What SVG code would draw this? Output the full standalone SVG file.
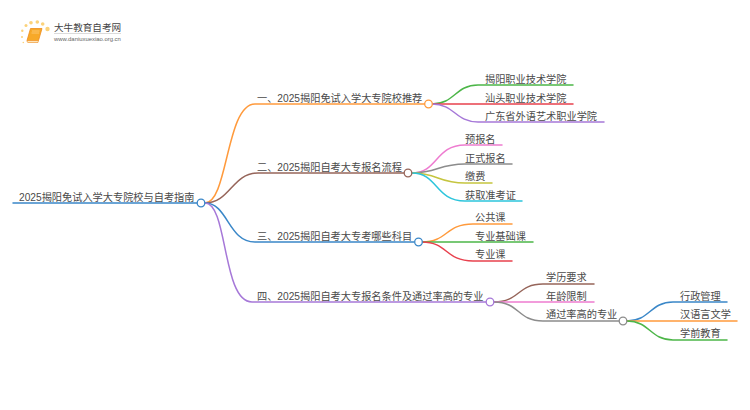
<svg xmlns="http://www.w3.org/2000/svg" width="750" height="410" viewBox="0 0 750 410">
<style>
text{font-family:"Liberation Sans","Noto Sans CJK SC",sans-serif;font-size:10.2px;fill:#4a4a4a}
.c{fill:none;stroke-width:1.5;stroke-linecap:round}
circle.n{fill:#fff;stroke-width:1.3}
.dot{fill:#fbd27a}
</style>
<rect width="750" height="410" fill="#fff"/>
<g id="logo">
<circle class="dot" cx="47.500" cy="29" r="2.200"/><circle class="dot" cx="42.700" cy="24" r="1.800"/><circle class="dot" cx="37.300" cy="22" r="1.800"/><circle class="dot" cx="31" cy="22.700" r="1.800"/><circle class="dot" cx="26" cy="25.500" r="1.500"/><circle class="dot" cx="22.300" cy="30.700" r="1.200"/><circle class="dot" cx="22" cy="37" r="1"/><circle class="dot" cx="23.300" cy="42.500" r="0.800"/>
<path d="M30.500 28.500H42L38.500 40.500H27Z" fill="#f7a928" stroke="#ee8c1a" stroke-width="0.800"/>
<path d="M27 40.500H38.500L38 42.500H28Q26.500 42 27 40.500Z" fill="#fde6bd" stroke="#ee8c1a" stroke-width="0.600"/>
<path d="M32 31H39.500M31.500 33H39" stroke="#fdd28a" stroke-width="0.700" fill="none"/>
<text x="54" y="31" style="font-size:9.600px;fill:#444">大牛教育自考网</text>
<rect x="54" y="33" width="67" height="0.700" fill="#ccc"/>
<text x="54" y="41" style="font-size:5.900px;fill:#666">www.daniuxuexiao.org.cn</text>
</g>
<g id="connectors">
<path class="c" stroke="#3a87c8" d="M13 203H197"/>
<path class="c" stroke="#ff9a3c" d="M205 203C228 203 226 104 255 104H425"/>
<path class="c" stroke="#96655a" d="M205 203C230 203 232 173 258 173H404"/>
<path class="c" stroke="#3a87c8" d="M205 203C228 203 228 242 255 242H414"/>
<path class="c" stroke="#a678d8" d="M205 203C228 203 222 302 252 302H486"/>
<path class="c" stroke="#4cb648" d="M432 104C455 104 455 85 478 85H573"/>
<path class="c" stroke="#e8414e" d="M432 104H573"/>
<path class="c" stroke="#a678d8" d="M432 104C455 104 455 122 478 122H604"/>
<path class="c" stroke="#ee7cd0" d="M412 173C438 173 435 145 465 145H502"/>
<path class="c" stroke="#8c8c8c" d="M412 173C438 173 438 164 465 164H512"/>
<path class="c" stroke="#c5c53f" d="M412 173C438 173 438 183 465 183H492"/>
<path class="c" stroke="#2dc5dc" d="M412 173C438 173 435 201 465 201H522"/>
<path class="c" stroke="#ff9a3c" d="M422 242C448 242 445 224 473 224H512"/>
<path class="c" stroke="#4cb648" d="M422 242H533"/>
<path class="c" stroke="#e8414e" d="M422 242C448 242 445 261 473 261H512"/>
<path class="c" stroke="#96655a" d="M494 302C520 302 517 284 543 284H594"/>
<path class="c" stroke="#ee7cd0" d="M494 302H594"/>
<path class="c" stroke="#8c8c8c" d="M494 302C520 302 517 321 543 321H619"/>
<path class="c" stroke="#3a87c8" d="M627 321C650 321 650 302 673 302H727"/>
<path class="c" stroke="#ff9a3c" d="M627 321H737"/>
<path class="c" stroke="#4cb648" d="M627 321C650 321 650 340 673 340H727"/>
</g>
<g id="root"><text x="19" y="200.500">2025揭阳免试入学大专院校与自考指南</text><circle class="n" cx="201" cy="203" r="3.800" stroke="#3a87c8"/></g>
<g id="b1"><text x="257" y="102">一、2025揭阳免试入学大专院校推荐</text><circle class="n" cx="428.500" cy="104" r="3.800" stroke="#ff9a3c"/></g>
<g id="b1a"><text x="485" y="83">揭阳职业技术学院</text></g>
<g id="b1b"><text x="485" y="101.500">汕头职业技术学院</text></g>
<g id="b1c"><text x="485" y="119.500">广东省外语艺术职业学院</text></g>
<g id="b2"><text x="257" y="171">二、2025揭阳自考大专报名流程</text><circle class="n" cx="408" cy="173" r="3.800" stroke="#96655a"/></g>
<g id="b2a"><text x="465" y="142.500">预报名</text></g>
<g id="b2b"><text x="465" y="161.500">正式报名</text></g>
<g id="b2c"><text x="465" y="180">缴费</text></g>
<g id="b2d"><text x="465" y="198.500">获取准考证</text></g>
<g id="b3"><text x="257" y="240">三、2025揭阳自考大专考哪些科目</text><circle class="n" cx="418.500" cy="242" r="3.800" stroke="#3a87c8"/></g>
<g id="b3a"><text x="475" y="221">公共课</text></g>
<g id="b3b"><text x="475" y="239.500">专业基础课</text></g>
<g id="b3c"><text x="475" y="258">专业课</text></g>
<g id="b4"><text x="257" y="300">四、2025揭阳自考大专报名条件及通过率高的专业</text><circle class="n" cx="490" cy="302" r="3.800" stroke="#a678d8"/></g>
<g id="b4a"><text x="546" y="281">学历要求</text></g>
<g id="b4b"><text x="546" y="299.500">年龄限制</text></g>
<g id="b4c"><text x="546" y="318">通过率高的专业</text><circle class="n" cx="623" cy="321" r="3.800" stroke="#8c8c8c"/></g>
<g id="b4c1"><text x="680" y="299.500">行政管理</text></g>
<g id="b4c2"><text x="680" y="318">汉语言文学</text></g>
<g id="b4c3"><text x="680" y="337">学前教育</text></g>
</svg>
